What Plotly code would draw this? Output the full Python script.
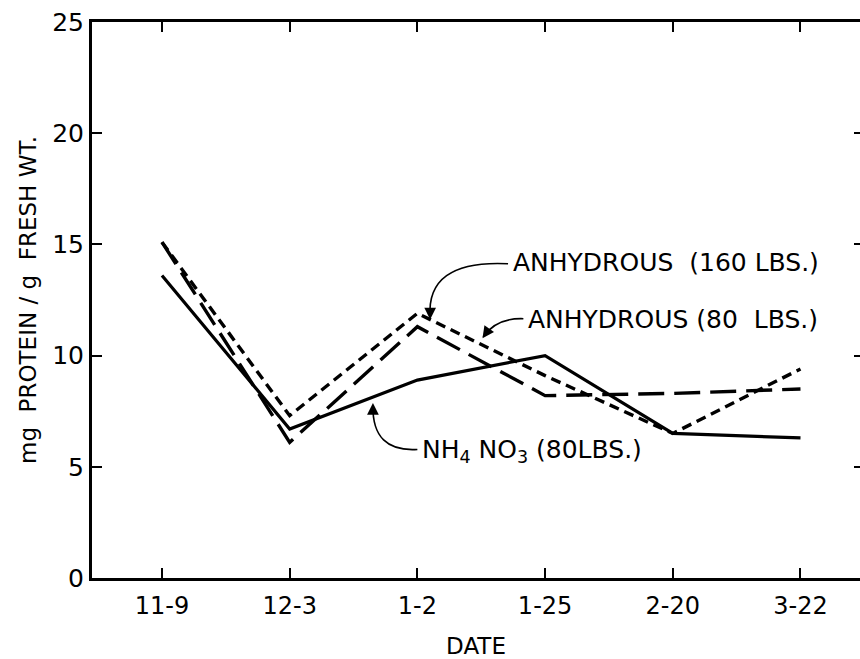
import plotly.graph_objects as go

dates = ["11-9", "12-3", "1-2", "1-25", "2-20", "3-22"]
anhydrous_160 = [15.1, 7.3, 11.9, 9.1, 6.5, 9.4]
anhydrous_80 = [15.1, 6.1, 11.3, 8.2, 8.3, 8.5]
nh4no3_80 = [13.6, 6.7, 8.9, 10.0, 6.5, 6.3]
y_ticks = [0, 5, 10, 15, 20, 25]

xi = list(range(len(dates)))
FONT = "DejaVu Sans"

fig = go.Figure()
fig.add_trace(go.Scatter(x=xi, y=nh4no3_80, mode="lines", name="NH4NO3 (80 LBS.)",
                         line=dict(color="black", width=3.2)))
fig.add_trace(go.Scatter(x=xi, y=anhydrous_80, mode="lines", name="ANHYDROUS (80 LBS.)",
                         line=dict(color="black", width=3.4, dash="26px,10px")))
fig.add_trace(go.Scatter(x=xi, y=anhydrous_160, mode="lines", name="ANHYDROUS (160 LBS.)",
                         line=dict(color="black", width=3.4, dash="10px,6px")))
# invisible trace for right-side inner ticks
fig.add_trace(go.Scatter(x=[0], y=[0], yaxis="y2", mode="markers",
                         marker=dict(opacity=0), showlegend=False, hoverinfo="skip"))

# leader curves (paths in data units)
curves = [
    "M 2.71,14.13 C 2.26,14.26 2.08,13.36 2.10,11.75",  # ANHYDROUS 160
    "M 2.83,11.66 Q 2.62,11.70 2.515,10.85",             # ANHYDROUS 80
    "M 2.00,5.78 Q 1.645,5.65 1.652,7.75",               # NH4NO3
]
for p in curves:
    fig.add_shape(type="path", path=p, xref="x", yref="y",
                  line=dict(color="black", width=1.6))

# arrow heads
heads = [(2.10, 11.62, 0, -12), (2.51, 10.78, 7, -10), (1.652, 7.87, 0, 12)]
for (hx, hy, ax, ay) in heads:
    fig.add_annotation(x=hx, y=hy, ax=ax, ay=ay, axref="pixel", ayref="pixel",
                       text="", showarrow=True, arrowhead=2, arrowsize=1.3,
                       arrowwidth=1.8, arrowcolor="black")

labels = [
    (2.73, 14.2, "ANHYDROUS  (160 LBS.)"),
    (2.85, 11.62, "ANHYDROUS (80  LBS.)"),
    (2.02, 5.72, "NH<sub>4</sub> NO<sub>3</sub> (80LBS.)"),
]
for (lx, ly, t) in labels:
    fig.add_annotation(x=lx, y=ly, text=t, showarrow=False, xanchor="left",
                       yanchor="middle", font=dict(family=FONT, size=25, color="black"))

fig.update_layout(
    width=860, height=659,
    margin=dict(l=92, r=0, t=22, b=81),
    paper_bgcolor="white", plot_bgcolor="white",
    showlegend=False,
    font=dict(family=FONT, color="black"),
    xaxis=dict(range=[-0.548, 5.466], tickvals=xi, ticktext=dates,
               ticks="inside", ticklen=10, tickwidth=2, tickcolor="black",
               showline=True, linewidth=3, linecolor="black", mirror="ticks",
               showgrid=False, zeroline=False, ticklabeloverflow="allow",
               ticklabelstandoff=4,
               tickfont=dict(family=FONT, size=24),
               title=dict(text="DATE", font=dict(family=FONT, size=23), standoff=22)),
    yaxis=dict(range=[0, 25], tickvals=y_ticks,
               ticks="inside", ticklen=10, tickwidth=2, tickcolor="black",
               showline=True, linewidth=3, linecolor="black",
               showgrid=False, zeroline=False,
               tickfont=dict(family=FONT, size=25),
               title=dict(text="mg  PROTEIN / g  FRESH WT.", font=dict(family=FONT, size=23),
                          standoff=10)),
    yaxis2=dict(range=[0, 25], tickvals=y_ticks, overlaying="y", side="right",
                ticks="inside", ticklen=6, tickwidth=2, tickcolor="black",
                showticklabels=False, showline=False, showgrid=False, zeroline=False),
)

fig.write_html("out.html")
